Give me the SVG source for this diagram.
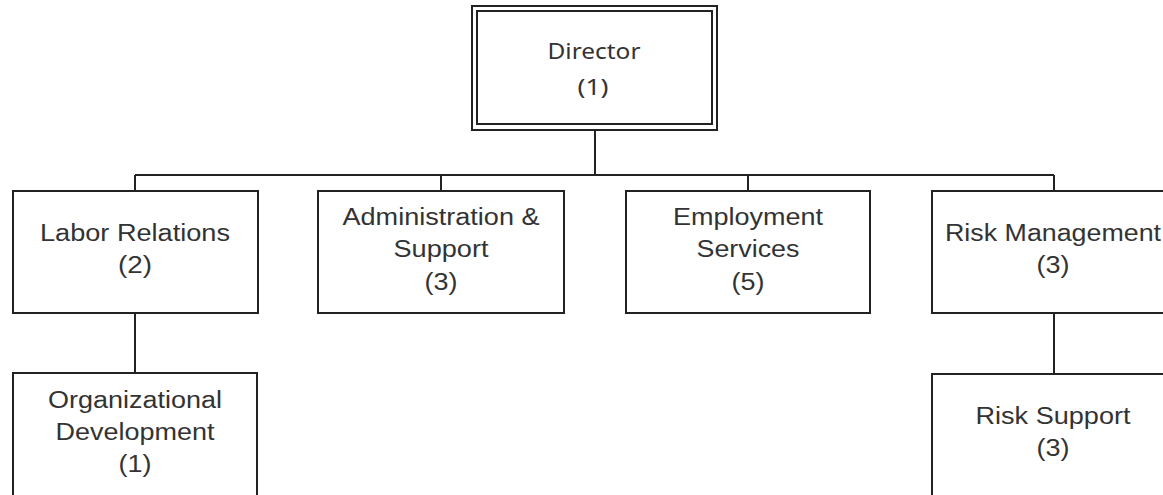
<svg xmlns="http://www.w3.org/2000/svg" width="1163" height="495" viewBox="0 0 1163 495">
<style>
.box{fill:#fff;stroke:#222;stroke-width:2}
.t{font-family:"Liberation Sans",Arial,sans-serif;font-size:23px;fill:#333;text-anchor:middle}
.d{font-family:"Noto Sans","Open Sans",sans-serif;font-size:22px;fill:#333;text-anchor:middle}
.c{fill:none;stroke:#222;stroke-width:2}
</style>
<rect width="1163" height="495" fill="#fff"/>
<g id="connectors">
<path class="c" d="M595 130V175M135 175H1054M135 175V191M441 175V191M748 175V191M1054 175V191M135 313V373M1054 313V374"/>
</g>
<g id="director">
<rect class="box" x="472" y="6" width="245" height="124"/>
<rect class="box" x="477" y="11" width="235" height="113"/>
<text class="d" x="594" y="59" textLength="93" lengthAdjust="spacingAndGlyphs">Director</text>
<text class="d" x="593" y="95" textLength="31" lengthAdjust="spacingAndGlyphs">(1)</text>
</g>
<g id="labor-relations">
<rect class="box" x="13" y="191" width="245" height="122"/>
<text class="t" x="135" y="241" textLength="190" lengthAdjust="spacingAndGlyphs">Labor Relations</text>
<text class="t" x="135" y="273" textLength="34" lengthAdjust="spacingAndGlyphs">(2)</text>
</g>
<g id="administration-support">
<rect class="box" x="318" y="191" width="246" height="122"/>
<text class="t" x="441" y="225" textLength="197" lengthAdjust="spacingAndGlyphs">Administration &amp;</text>
<text class="t" x="441" y="257" textLength="95" lengthAdjust="spacingAndGlyphs">Support</text>
<text class="t" x="441" y="290" textLength="33" lengthAdjust="spacingAndGlyphs">(3)</text>
</g>
<g id="employment-services">
<rect class="box" x="626" y="191" width="244" height="122"/>
<text class="t" x="748" y="225" textLength="150" lengthAdjust="spacingAndGlyphs">Employment</text>
<text class="t" x="748" y="257" textLength="103" lengthAdjust="spacingAndGlyphs">Services</text>
<text class="t" x="748" y="290" textLength="33" lengthAdjust="spacingAndGlyphs">(5)</text>
</g>
<g id="risk-management">
<rect class="box" x="932" y="191" width="245" height="122"/>
<text class="t" x="1053" y="241" textLength="216" lengthAdjust="spacingAndGlyphs">Risk Management</text>
<text class="t" x="1053" y="273" textLength="33" lengthAdjust="spacingAndGlyphs">(3)</text>
</g>
<g id="organizational-development">
<rect class="box" x="13" y="373" width="244" height="123"/>
<text class="t" x="135" y="408" textLength="174" lengthAdjust="spacingAndGlyphs">Organizational</text>
<text class="t" x="135" y="440" textLength="159" lengthAdjust="spacingAndGlyphs">Development</text>
<text class="t" x="135" y="472" textLength="33" lengthAdjust="spacingAndGlyphs">(1)</text>
</g>
<g id="risk-support">
<rect class="box" x="932" y="374" width="245" height="122"/>
<text class="t" x="1053" y="424" textLength="155" lengthAdjust="spacingAndGlyphs">Risk Support</text>
<text class="t" x="1053" y="456" textLength="33" lengthAdjust="spacingAndGlyphs">(3)</text>
</g>
</svg>
